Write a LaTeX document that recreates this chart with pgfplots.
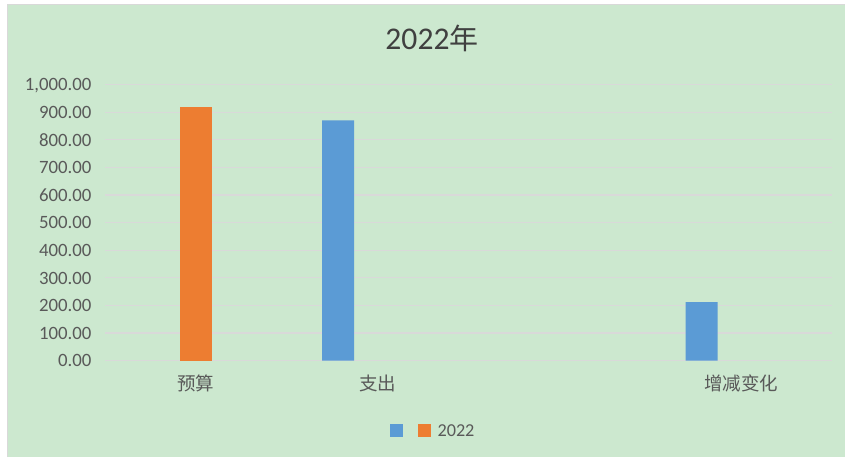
\documentclass[border=0pt]{standalone}
\usepackage{pgfplots}
\pgfplotsset{compat=1.18}
\usepackage{fontspec}
\setmainfont{Carlito}
\newfontfamily\cjk{Noto Sans CJK SC}
\definecolor{bg}{HTML}{CCE8CF}
\definecolor{gridc}{HTML}{D9D9D9}
\definecolor{txt}{HTML}{595959}
\definecolor{ttl}{HTML}{404040}
\definecolor{cblue}{HTML}{5B9BD5}
\definecolor{corange}{HTML}{ED7D31}
\begin{document}
\begin{tikzpicture}[x=1pt,y=1pt]
\path[use as bounding box] (0,0) rectangle (845,457);
\fill[white] (0,0) rectangle (845,457);
\fill[bg] (7.5,0) rectangle (845,452.5);
\draw[gridc,line width=1.2pt] (7.5,0) -- (7.5,452.5) -- (845,452.5);
\node[anchor=base,text=ttl,inner sep=0pt] at (432,407) {\fontsize{31.6}{36}\selectfont 2022{\cjk\fontsize{29}{34}\selectfont 年}};
\begin{axis}[
  at={(105pt,96.3pt)}, anchor=south west,
  scale only axis, width=727pt, height=276pt,
  xmin=-0.5, xmax=3.5, ymin=0, ymax=1000,
  axis line style={draw=none},
  major tick length=0pt,
  ytick={0,100,...,1000},
  ymajorgrids, grid style={gridc,line width=1.2pt},
  xtick={0,1,2,3},
  xticklabels={预算,支出,{},增减变化},
  xticklabel style={font=\cjk\fontsize{18.5}{20}\selectfont, text=txt, anchor=base, inner sep=0pt, yshift=-30pt},
  yticklabel style={font=\fontsize{18.8}{20}\selectfont, text=txt, anchor=base east, inner sep=0pt, xshift=-13.3pt, yshift=-6.3pt},
  yticklabel={\pgfmathprintnumber[fixed,fixed zerofill,precision=2,1000 sep={,}]{\tick}},
  /pgf/number format/assume math mode=true,
  ybar, bar width=0.176,
  legend columns=-1,
  legend style={draw=none, fill=none, at={(0.4498,-0.2547)}, anchor=center, font=\fontsize{18.2}{20}\selectfont, text=txt, column sep=7pt, nodes={inner sep=0pt}},
  legend image code/.code={\fill[#1] (0pt,-6.5pt) rectangle (13pt,6.5pt);},
  clip=false,
]
\addplot[fill=cblue, draw=none, bar shift=-0.218] coordinates {(1,871) (3,212)};
\addlegendentry{}
\addplot[fill=corange, draw=none, bar shift=0] coordinates {(0,919)};
\addlegendentry{2022}
\end{axis}
\end{tikzpicture}
\end{document}
